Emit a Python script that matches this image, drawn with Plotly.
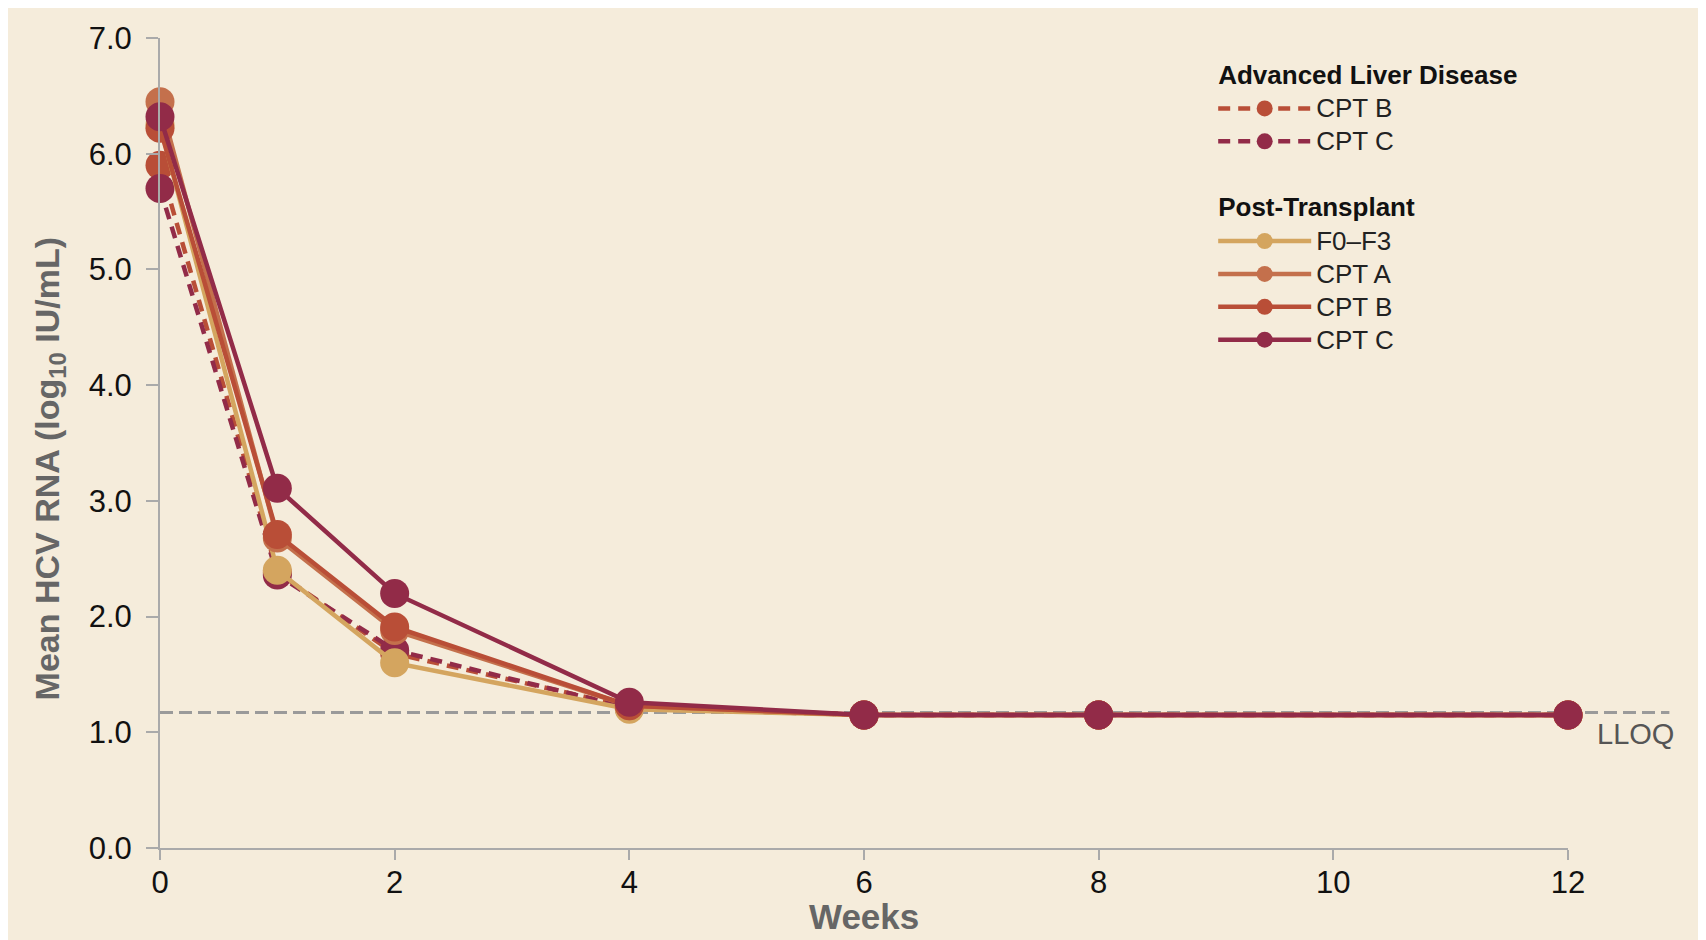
import plotly.graph_objects as go

weeks = [0, 1, 2, 4, 6, 8, 12]

ald_cpt_b = [5.90, 2.38, 1.68, 1.22, 1.15, 1.15, 1.15]
ald_cpt_c = [5.70, 2.36, 1.71, 1.21, 1.15, 1.15, 1.15]
pt_f0f3 = [6.25, 2.40, 1.60, 1.20, 1.15, 1.15, 1.15]
pt_cpt_a = [6.45, 2.68, 1.88, 1.23, 1.15, 1.15, 1.15]
pt_cpt_b = [6.22, 2.71, 1.91, 1.23, 1.15, 1.15, 1.15]
pt_cpt_c = [6.32, 3.11, 2.20, 1.26, 1.15, 1.15, 1.15]

lloq = 1.17

x_ticks = [0, 2, 4, 6, 8, 10, 12]
y_ticks = [0, 1, 2, 3, 4, 5, 6, 7]

C_TAN = "#d4a55f"
C_A = "#c4704c"
C_B = "#b94e37"
C_C = "#922b48"
BG = "#f5ecdb"

series = [
    ("CPT B", ald_cpt_b, C_B, "12px,8px", "ald", "Advanced Liver Disease"),
    ("CPT C", ald_cpt_c, C_C, "12px,8px", "ald", None),
    ("F0\u2013F3", pt_f0f3, C_TAN, "solid", "pt", "Post-Transplant"),
    ("CPT A", pt_cpt_a, C_A, "solid", "pt", None),
    ("CPT B", pt_cpt_b, C_B, "solid", "pt", None),
    ("CPT C", pt_cpt_c, C_C, "solid", "pt", None),
]

fig = go.Figure()

for name, vals, col, dash, grp, gtitle in series:
    kw = {}
    if gtitle:
        kw["legendgrouptitle"] = dict(
            text=gtitle,
            font=dict(family="Liberation Sans", size=26, color="#111111", weight="bold"),
        )
    fig.add_trace(go.Scatter(
        x=weeks, y=vals, name=f'<span style="font-size:26px">{name}</span>',
        mode="lines+markers",
        line=dict(color=col, width=4.5, dash=dash),
        marker=dict(color=col, size=29, line=dict(width=0)),
        legendgroup=grp, cliponaxis=False, **kw,
    ))

fig.add_shape(type="line", xref="paper", yref="y", x0=0, x1=1.072, y0=lloq, y1=lloq,
              line=dict(color="#9a9a9a", width=3, dash="13px,6px"), layer="below")

fig.add_annotation(text="LLOQ", xref="paper", yref="y", x=1.077, y=lloq, yshift=-3,
                   xanchor="right", yanchor="top", showarrow=False,
                   font=dict(family="Liberation Sans", size=29, color="#555555"))

fig.add_annotation(text="Mean HCV RNA (log<sub>10</sub> IU/mL)", xref="paper", yref="paper",
                   x=-0.0785, y=0.468, textangle=-90, showarrow=False,
                   xanchor="center", yanchor="middle",
                   font=dict(family="Liberation Sans", size=34, color="#666666", weight="bold"))

fig.add_annotation(text="Weeks", xref="paper", yref="paper",
                   x=0.5, y=-0.085, showarrow=False,
                   xanchor="center", yanchor="middle",
                   font=dict(family="Liberation Sans", size=35, color="#666666", weight="bold"))

fig.update_layout(
    width=1690, height=932,
    margin=dict(l=152, r=130, t=30, b=92),
    paper_bgcolor=BG, plot_bgcolor=BG,
    font=dict(family="Liberation Sans", color="#111111"),
    showlegend=True,
    legend=dict(
        x=0.748, y=0.985, xanchor="left", yanchor="top",
        bgcolor="rgba(0,0,0,0)", traceorder="grouped",
        tracegroupgap=30, itemwidth=93,
        font=dict(family="Liberation Sans", size=23, color="#222222"),
    ),
    xaxis=dict(
        range=[0, 12], tickvals=x_ticks, ticktext=[str(v) for v in x_ticks],
        showgrid=False, zeroline=False, showline=True, linecolor="#aaaaaa", linewidth=2,
        ticks="outside", ticklen=10, tickwidth=2, tickcolor="#aaaaaa",
        automargin=False, ticklabelstandoff=-4,
        tickfont=dict(family="Liberation Sans", size=31, color="#111111"),
    ),
    yaxis=dict(
        range=[0, 7], tickvals=y_ticks, ticktext=[f"{v:.1f}" for v in y_ticks],
        showgrid=False, zeroline=False, showline=True, linecolor="#aaaaaa", linewidth=2,
        ticks="outside", ticklen=12, tickwidth=2, tickcolor="#aaaaaa",
        automargin=False, ticklabelstandoff=8,
        tickfont=dict(family="Liberation Sans", size=31, color="#111111"),
    ),
)

fig.write_html("out.html")
